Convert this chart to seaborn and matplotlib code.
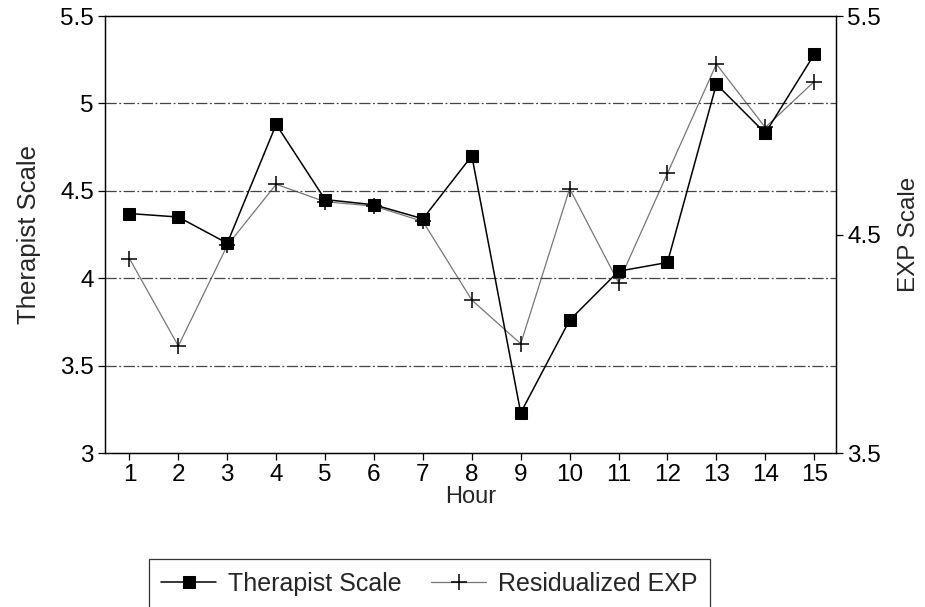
import matplotlib
matplotlib.use("Agg")
import matplotlib.pyplot as plt
import seaborn as sns
import pandas as pd

# values
hours = list(range(1, 16))
therapist_scale = [4.37, 4.35, 4.20, 4.88, 4.45, 4.42, 4.34, 4.70,
                   3.23, 3.76, 4.04, 4.09, 5.11, 4.83, 5.28]
residualized_exp = [4.39, 3.99, 4.45, 4.73, 4.65, 4.63, 4.56, 4.20,
                    4.00, 4.71, 4.28, 4.78, 5.28, 4.99, 5.20]

df = pd.DataFrame({"Hour": hours, "Therapist": therapist_scale, "EXP": residualized_exp})

sns.set_style("ticks")
plt.rcParams['font.family'] = ['Liberation Sans', 'DejaVu Sans']
plt.rcParams['font.size'] = 17.5

fig, ax = plt.subplots(figsize=(9.25, 6.07), dpi=100)
fig.subplots_adjust(left=0.1135, right=0.904, top=0.9736, bottom=0.2537)
ax2 = ax.twinx()

# horizontal reference lines at the left-axis ticks
for yv in [3.5, 4, 4.5, 5]:
    ax.axhline(yv, color="#444444", lw=0.9, ls=(0, (9, 2, 1.5, 2)), zorder=0)

sns.lineplot(x="Hour", y="EXP", data=df, ax=ax2, color="#777777", lw=0.9,
             marker="+", markersize=12, markeredgewidth=1.1,
             markeredgecolor="black", legend=False, label="Residualized EXP")
sns.lineplot(x="Hour", y="Therapist", data=df, ax=ax, color="black", lw=1.1,
             marker="s", markersize=8, markeredgecolor="black",
             markerfacecolor="black", legend=False, label="Therapist Scale")

ax.set_zorder(ax2.get_zorder() + 1)
ax.patch.set_visible(False)

ax.set_xlim(0.5, 15.45)
ax.set_ylim(3, 5.5)
ax2.set_ylim(3.5, 5.5)
ax.set_xticks(hours)
ax.set_yticks([3, 3.5, 4, 4.5, 5, 5.5])
ax.set_yticklabels(["3", "3.5", "4", "4.5", "5", "5.5"])
ax2.set_yticks([3.5, 4.5, 5.5])
ax2.set_yticklabels(["3.5", "4.5", "5.5"])

ax.set_xlabel("Hour", labelpad=0, fontsize=17)
ax.set_ylabel("Therapist Scale", labelpad=14, fontsize=18.5)
ax2.set_ylabel("EXP Scale", labelpad=12, fontsize=17.5)

for a in (ax, ax2):
    a.tick_params(direction="out", length=5, width=0.9, colors="black", pad=3)
    for s in a.spines.values():
        s.set_color("black")
        s.set_linewidth(0.9)

handles = ax.get_lines()[-1:] + ax2.get_lines()[-1:]
leg = fig.legend(handles, ["Therapist Scale", "Residualized EXP"],
                 loc="upper center", bbox_to_anchor=(0.464, 0.079), ncol=2,
                 frameon=True, fancybox=False, edgecolor="black",
                 handlelength=2.2, handletextpad=0.45, columnspacing=1.2,
                 borderpad=0.5, borderaxespad=0, fontsize=18)
leg.get_frame().set_linewidth(0.9)

fig.savefig("out.png", dpi=100)
